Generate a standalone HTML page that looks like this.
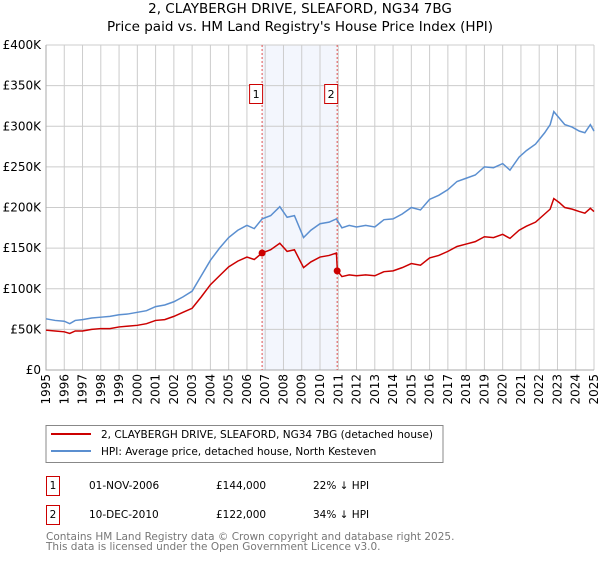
<!DOCTYPE html>
<html><head><meta charset="utf-8"><style>
body{margin:0;background:#fff;font-family:"DejaVu Sans","Liberation Sans",sans-serif;}
</style></head><body>
<svg width="600" height="560" xmlns="http://www.w3.org/2000/svg" font-family="DejaVu Sans, Liberation Sans, sans-serif">
<text x="300" y="13" text-anchor="middle" font-size="13.5">2, CLAYBERGH DRIVE, SLEAFORD, NG34 7BG</text>
<text x="300" y="31" text-anchor="middle" font-size="13.5">Price paid vs. HM Land Registry's House Price Index (HPI)</text>
<g id="plot"></g>
<g>
<rect x="46" y="425.5" width="397" height="37" fill="#fff" stroke="#888"/>
<line x1="51" y1="434" x2="91" y2="434" stroke="#cc0000" stroke-width="2"/>
<text x="101" y="438" font-size="10.5">2, CLAYBERGH DRIVE, SLEAFORD, NG34 7BG (detached house)</text>
<line x1="51" y1="451" x2="91" y2="451" stroke="#5b8fd0" stroke-width="2"/>
<text x="101" y="455" font-size="10.5">HPI: Average price, detached house, North Kesteven</text>
</g>
<g font-size="10.5">
<rect x="46.5" y="476.5" width="13" height="19" fill="#fff" stroke="#cc0000"/>
<text x="53" y="489" text-anchor="middle">1</text>
<text x="89" y="489">01-NOV-2006</text><text x="216" y="489">£144,000</text><text x="313" y="489">22% ↓ HPI</text>
<rect x="46.5" y="505.5" width="13" height="19" fill="#fff" stroke="#cc0000"/>
<text x="53" y="518" text-anchor="middle">2</text>
<text x="89" y="518">10-DEC-2010</text><text x="216" y="518">£122,000</text><text x="313" y="518">34% ↓ HPI</text>
</g>
<text x="46" y="540" font-size="10.5" fill="#777">Contains HM Land Registry data © Crown copyright and database right 2025.</text>
<text x="46" y="550" font-size="10.5" fill="#777">This data is licensed under the Open Government Licence v3.0.</text>
</svg>
<script>
const dates=[1995.0,1995.5,1996.0,1996.3,1996.6,1997.0,1997.5,1998.0,1998.5,1999.0,1999.5,2000.0,2000.5,2001.0,2001.5,2002.0,2002.5,2003.0,2003.5,2004.0,2004.5,2005.0,2005.5,2006.0,2006.4,2006.83,2007.3,2007.8,2008.2,2008.6,2009.1,2009.5,2010.0,2010.5,2010.9,2010.95,2011.2,2011.6,2012.0,2012.5,2013.0,2013.5,2014.0,2014.5,2015.0,2015.5,2016.0,2016.5,2017.0,2017.5,2018.0,2018.5,2019.0,2019.5,2020.0,2020.4,2020.9,2021.3,2021.8,2022.3,2022.6,2022.8,2023.1,2023.4,2023.8,2024.2,2024.5,2024.8,2025.0];
const hpiValues=[63,61,60,57,61,62,64,65,66,68,69,71,73,78,80,84,90,97,116,135,150,163,172,178,174,186,190,201,188,190,163,172,180,182,186,184,175,178,176,178,176,185,186,192,200,197,210,215,222,232,236,240,250,249,254,246,262,270,278,292,302,318,310,302,299,294,292,302,294];
const priceValues=[49,48,47,45,48,48,50,51,51,53,54,55,57,61,62,66,71,76,90,105,116,127,134,139,136,144,148,156,146,148,126,133,139,141,144,122,115,117,116,117,116,121,122,126,131,129,138,141,146,152,155,158,164,163,167,162,172,177,182,192,198,211,206,200,198,195,193,199,195];
const sales=[{label:"1",date:2006.83,price:144},{label:"2",date:2010.94,price:122}];
const yTicks=[0,50,100,150,200,250,300,350,400];
const xYears=[];for(let y=1995;y<=2025;y++)xYears.push(y);
const L=46,R=594,T=45,B=370;
const xs=d=>L+(d-1995)/30*(R-L);
const ys=v=>B-v/400*(B-T);
const NS="http://www.w3.org/2000/svg";
const g=document.getElementById('plot');
function mk(tag,attrs,parent){const e=document.createElementNS(NS,tag);for(const k in attrs)e.setAttribute(k,attrs[k]);(parent||g).appendChild(e);return e;}
const band=mk('rect',{x:xs(sales[0].date),y:T,width:xs(sales[1].date)-xs(sales[0].date),height:B-T,fill:'#f3f6fd'});


xYears.forEach(y=>{const l=mk('line',{x1:xs(y),x2:xs(y),y1:T,y2:B,stroke:'#cccccc'});


const t=mk('text',{x:0,y:0,'font-size':12,'text-anchor':'end',transform:`translate(${xs(y)+4},${B+4}) rotate(-90)`});t.textContent=y;

});
yTicks.forEach(v=>{const l=mk('line',{x1:L,x2:R,y1:ys(v),y2:ys(v),stroke:'#cccccc'});


const t=mk('text',{x:L-5,y:ys(v)+4,'font-size':12,'text-anchor':'end'});t.textContent=v===0?'£0':'£'+v+'K';

});
const ax=mk('path',{d:`M${L},${T}V${B}H${R}`,fill:'none',stroke:'#aaa'});


sales.forEach(s=>{const l=mk('line',{x1:xs(s.date),x2:xs(s.date),y1:T,y2:B,stroke:'#e05050','stroke-dasharray':'2,2'});


const bx=mk('rect',{x:xs(s.date)-12.5,y:84.5,width:13,height:19,fill:'#fff',stroke:'#cc0000'});


const t=mk('text',{x:xs(s.date)-6,y:98,'font-size':11,'text-anchor':'middle'});t.textContent=s.label;

});
const hp=mk('polyline',{points:dates.map((d,i)=>xs(d)+','+ys(hpiValues[i])).join(' '),fill:'none',stroke:'#5b8fd0','stroke-width':1.5});


const pp=mk('polyline',{points:dates.map((d,i)=>xs(d)+','+ys(priceValues[i])).join(' '),fill:'none',stroke:'#cc0000','stroke-width':1.5});


sales.forEach(s=>{const c=mk('circle',{cx:xs(s.date),cy:ys(s.price),r:3.5,fill:'#cc0000'});

});
</script>
</body></html>
